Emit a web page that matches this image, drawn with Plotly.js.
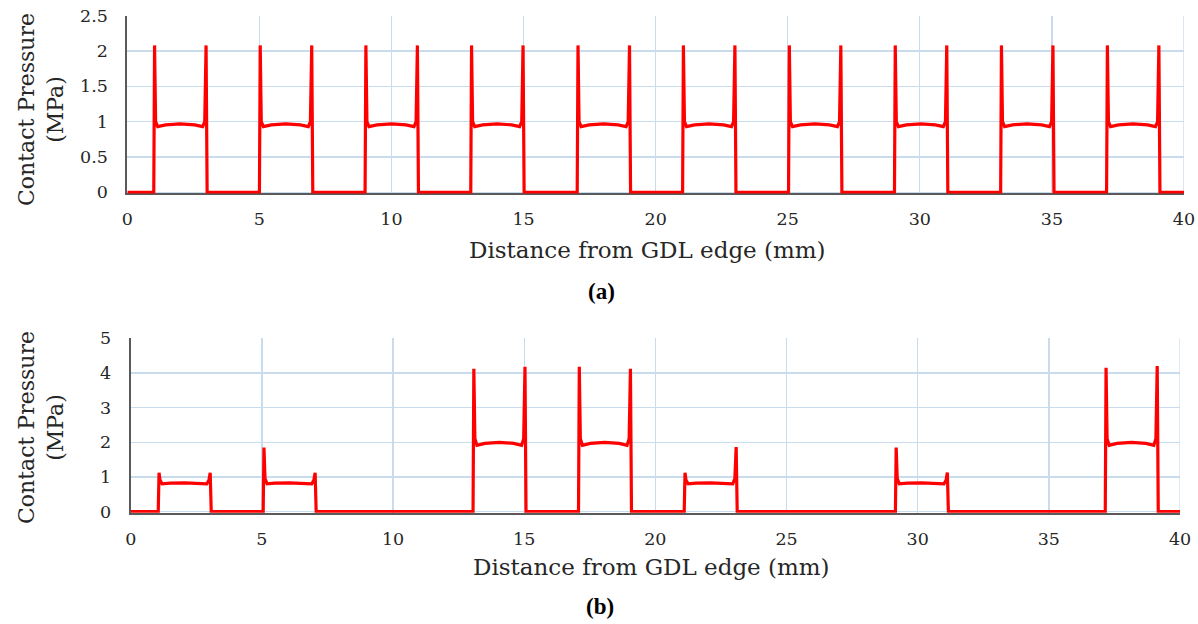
<!DOCTYPE html>
<html>
<head>
<meta charset="utf-8">
<script src="https://cdn.plot.ly/plotly-3.0.1.min.js"></script>
<style>html,body{margin:0;padding:0;background:#fff;}#chart{width:1198px;height:624px;}</style>
</head>
<body>
<div id="chart"></div>
<script>
// Panel (a): uniform clamping – distance (mm) and contact pressure (MPa)
const xA = [0,
  1.00, 1.03, 1.07, 1.15, 1.45, 2.00, 2.55, 2.85, 2.93, 2.98, 3.02,
  5.00, 5.03, 5.07, 5.15, 5.45, 6.00, 6.55, 6.85, 6.93, 6.98, 7.02,
  9.00, 9.03, 9.07, 9.15, 9.45, 10.00, 10.55, 10.85, 10.93, 10.98, 11.02,
  13.00, 13.03, 13.07, 13.15, 13.45, 14.00, 14.55, 14.85, 14.93, 14.98, 15.02,
  17.03, 17.06, 17.10, 17.18, 17.48, 18.03, 18.58, 18.88, 18.96, 19.01, 19.05,
  21.02, 21.05, 21.09, 21.17, 21.47, 22.02, 22.57, 22.87, 22.95, 23.00, 23.04,
  25.03, 25.06, 25.10, 25.18, 25.48, 26.03, 26.58, 26.88, 26.96, 27.01, 27.05,
  29.04, 29.07, 29.11, 29.19, 29.49, 30.04, 30.59, 30.89, 30.97, 31.02, 31.06,
  33.06, 33.09, 33.13, 33.21, 33.51, 34.06, 34.61, 34.91, 34.99, 35.04, 35.08,
  37.07, 37.10, 37.14, 37.22, 37.52, 38.07, 38.62, 38.92, 39.00, 39.05, 39.09,
  40];
const yA = [0,
  0, 2.08, 1.0, 0.93, 0.955, 0.97, 0.955, 0.93, 1.0, 2.08, 0,
  0, 2.08, 1.0, 0.93, 0.955, 0.97, 0.955, 0.93, 1.0, 2.08, 0,
  0, 2.08, 1.0, 0.93, 0.955, 0.97, 0.955, 0.93, 1.0, 2.08, 0,
  0, 2.08, 1.0, 0.93, 0.955, 0.97, 0.955, 0.93, 1.0, 2.08, 0,
  0, 2.08, 1.0, 0.93, 0.955, 0.97, 0.955, 0.93, 1.0, 2.08, 0,
  0, 2.08, 1.0, 0.93, 0.955, 0.97, 0.955, 0.93, 1.0, 2.08, 0,
  0, 2.08, 1.0, 0.93, 0.955, 0.97, 0.955, 0.93, 1.0, 2.08, 0,
  0, 2.08, 1.0, 0.93, 0.955, 0.97, 0.955, 0.93, 1.0, 2.08, 0,
  0, 2.08, 1.0, 0.93, 0.955, 0.97, 0.955, 0.93, 1.0, 2.08, 0,
  0, 2.08, 1.0, 0.93, 0.955, 0.97, 0.955, 0.93, 1.0, 2.08, 0,
  0];

// Panel (b)
const xB = [0,
  1.05, 1.08, 1.12, 1.20, 1.50, 2.05, 2.60, 2.90, 2.98, 3.03, 3.07,
  5.05, 5.08, 5.12, 5.20, 5.50, 6.05, 6.60, 6.90, 6.98, 7.03, 7.07,
  13.05, 13.08, 13.12, 13.20, 13.50, 14.05, 14.60, 14.90, 14.98, 15.03, 15.07,
  17.07, 17.10, 17.14, 17.22, 17.52, 18.07, 18.62, 18.92, 19.00, 19.05, 19.09,
  21.10, 21.13, 21.17, 21.25, 21.55, 22.10, 22.65, 22.95, 23.03, 23.08, 23.12,
  29.15, 29.18, 29.22, 29.30, 29.60, 30.15, 30.70, 31.00, 31.08, 31.13, 31.17,
  37.15, 37.18, 37.22, 37.30, 37.60, 38.15, 38.70, 39.00, 39.08, 39.13, 39.17,
  40];
const yB = [0,
  0, 1.12, 0.90, 0.80, 0.82, 0.83, 0.82, 0.80, 0.90, 1.12, 0,
  0, 1.85, 0.95, 0.80, 0.82, 0.83, 0.82, 0.80, 0.90, 1.12, 0,
  0, 4.12, 2.10, 1.91, 1.97, 2.00, 1.97, 1.91, 2.10, 4.18, 0,
  0, 4.18, 2.10, 1.91, 1.97, 2.00, 1.97, 1.91, 2.10, 4.12, 0,
  0, 1.12, 0.90, 0.80, 0.82, 0.83, 0.82, 0.80, 0.95, 1.86, 0,
  0, 1.85, 0.95, 0.80, 0.82, 0.83, 0.82, 0.80, 0.90, 1.13, 0,
  0, 4.15, 2.10, 1.91, 1.97, 2.00, 1.97, 1.91, 2.10, 4.20, 0,
  0];

const xTicks = [0, 5, 10, 15, 20, 25, 30, 35, 40];
const yTicksA = [0, 0.5, 1, 1.5, 2, 2.5];
const yTicksB = [0, 1, 2, 3, 4, 5];

const SERIF = '"DejaVu Serif", "Liberation Serif", serif';
const TXT = '#262626';
const GRID = '#c8dcee';
const AXL = '#5a5a5a';

const line = {color: '#ff0000', width: 3.2, shape: 'linear'};
const traces = [
  {x: xA, y: yA, type: 'scatter', mode: 'lines', line: line, xaxis: 'x', yaxis: 'y', hoverinfo: 'x+y'},
  {x: xB, y: yB, type: 'scatter', mode: 'lines', line: line, xaxis: 'x2', yaxis: 'y2', hoverinfo: 'x+y'}
];

function xax(domain, anchor) {
  return {domain: domain, anchor: anchor, range: [0, 40], tickvals: xTicks, ticktext: xTicks.map(String),
    showgrid: true, gridcolor: GRID, gridwidth: 1.3, zeroline: false, showline: true, linecolor: AXL, linewidth: 2,
    ticks: '', ticklabelstandoff: 9, tickfont: {family: SERIF, size: 17.5, color: TXT}, layer: 'below traces', fixedrange: true};
}
function yax(domain, anchor, range, vals) {
  return {domain: domain, anchor: anchor, range: range, tickvals: vals, ticktext: vals.map(String),
    showgrid: true, gridcolor: GRID, gridwidth: 1.3, zeroline: false, showline: true, linecolor: AXL, linewidth: 2,
    ticks: '', ticklabelstandoff: 14, tickfont: {family: SERIF, size: 17.5, color: TXT}, layer: 'below traces', fixedrange: true};
}

const layout = {
  width: 1198, height: 624,
  margin: {l: 0, r: 0, t: 0, b: 0, pad: 0},
  paper_bgcolor: '#ffffff', plot_bgcolor: '#ffffff',
  showlegend: false,
  xaxis: xax([0.1063, 0.9883], 'y'),
  yaxis: yax([0.6901, 0.9748], 'x', [-0.015, 2.5], yTicksA),
  xaxis2: xax([0.1091, 0.985], 'y2'),
  yaxis2: yax([0.1784, 0.4579], 'x2', [-0.03, 5], yTicksB),
  shapes: [
    {type: 'line', xref: 'x', yref: 'paper', x0: 40, x1: 40, y0: 0.6901, y1: 0.9748, line: {color: GRID, width: 1.3}, layer: 'below'},
    {type: 'line', xref: 'x2', yref: 'paper', x0: 40, x1: 40, y0: 0.1784, y1: 0.4579, line: {color: GRID, width: 1.3}, layer: 'below'}
  ],
  annotations: [
    {text: 'Contact Pressure<br>(MPa)', xref: 'paper', yref: 'paper', x: 41/1198, y: 1 - 110/624, xanchor: 'center', yanchor: 'middle',
      textangle: -90, showarrow: false, font: {family: SERIF, size: 22, color: TXT}},
    {text: 'Distance from GDL edge (mm)', xref: 'paper', yref: 'paper', x: 648/1198, y: 1 - 250/624, xanchor: 'center', yanchor: 'middle',
      showarrow: false, font: {family: SERIF, size: 23, color: TXT}},
    {text: '<b>(a)</b>', xref: 'paper', yref: 'paper', x: 601/1198, y: 1 - 291/624, xanchor: 'center', yanchor: 'middle',
      showarrow: false, font: {family: '"Liberation Serif", serif', size: 23, color: '#000'}},
    {text: 'Contact Pressure<br>(MPa)', xref: 'paper', yref: 'paper', x: 41/1198, y: 1 - 428/624, xanchor: 'center', yanchor: 'middle',
      textangle: -90, showarrow: false, font: {family: SERIF, size: 22, color: TXT}},
    {text: 'Distance from GDL edge (mm)', xref: 'paper', yref: 'paper', x: 651/1198, y: 1 - 567/624, xanchor: 'center', yanchor: 'middle',
      showarrow: false, font: {family: SERIF, size: 23, color: TXT}},
    {text: '<b>(b)</b>', xref: 'paper', yref: 'paper', x: 600/1198, y: 1 - 606/624, xanchor: 'center', yanchor: 'middle',
      showarrow: false, font: {family: '"Liberation Serif", serif', size: 23, color: '#000'}}
  ]
};

Plotly.newPlot('chart', traces, layout, {displayModeBar: false, staticPlot: true});
</script>
</body>
</html>
